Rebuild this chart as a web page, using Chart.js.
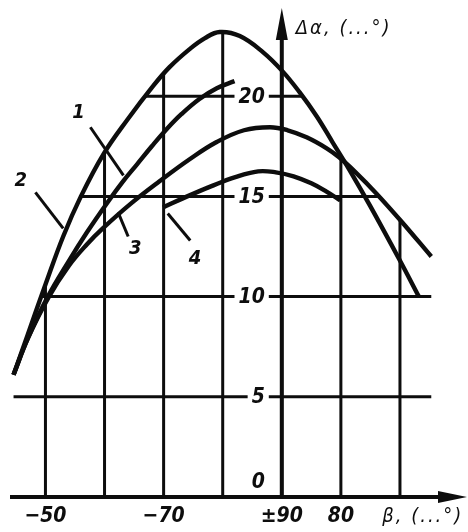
<!DOCTYPE html>
<html>
<head>
<meta charset="utf-8">
<script src="https://cdn.jsdelivr.net/npm/chart.js@4.4.1/dist/chart.umd.min.js"></script>
<style>
  body { margin: 0; background: #fff; }
</style>
</head>
<body>
<canvas id="chart" width="468" height="532"></canvas>
<script>
// beta is unrolled along the axis: -50 ... -90 | +90, 80, 70  ->  50 ... 90, 100, 110
const betaTicks = [50, 60, 70, 80, 90, 100, 110];
const betaTickLabels = ['\u221250', '', '\u221270', '', '\u00b190', '80', ''];
const alphaTicks = [0, 5, 10, 15, 20];

const curve1Beta = [44.6, 47, 50.4, 54, 57, 60.5, 63, 65.5, 68, 70.5, 73, 76, 79, 82];
const curve1Alpha = [6.1, 7.9, 10, 11.8, 13.2, 14.7, 15.7, 16.6, 17.5, 18.35, 19.1, 19.85, 20.4, 20.75];

const curve2Beta = [44.6, 47, 50, 53, 56, 59.8, 63.8, 68.2, 71, 74.4, 77, 79.5, 82.9, 86.8, 90.1, 93, 95.9, 98.6, 101.4, 105, 109.9, 113.2];
const curve2Alpha = [6.1, 8.1, 10.6, 13.0, 15.0, 17.1, 18.8, 20.5, 21.45, 22.35, 22.9, 23.2, 23.0, 22.2, 21.25, 20.2, 19.0, 17.7, 16.35, 14.5, 11.85, 10.0];

const curve3Beta = [44.6, 47, 50.5, 54, 57, 59.7, 64.3, 69.3, 74.4, 78.9, 83.6, 88, 91, 94.2, 97.6, 99.7, 102.5, 106, 110.4, 115.3];
const curve3Alpha = [6.1, 7.9, 9.95, 11.55, 12.6, 13.4, 14.6, 15.75, 16.85, 17.7, 18.3, 18.45, 18.3, 17.95, 17.4, 16.95, 16.2, 15.15, 13.7, 12];

const curve4Beta = [69.9, 74, 78, 82, 86, 89, 92, 95, 97.5, 99.9];
const curve4Alpha = [14.45, 15.0, 15.5, 15.95, 16.25, 16.2, 16.0, 15.65, 15.25, 14.8];

// curve numbers with their leader lines, in chart values
const curveTags = [
  { name: '1', at: [55.6, 19.15], from: [57.6, 18.45], to: [63.2, 16.05] },
  { name: '2', at: [45.8, 15.8], from: [48.3, 15.2], to: [53, 13.4] },
  { name: '3', at: [65.2, 12.4], from: [64, 13], to: [62.3, 14.2] },
  { name: '4', at: [75.3, 11.9], from: [74.5, 12.8], to: [70.7, 14.15] },
];

const ink = '#0d0d0d';
const fam = "'DejaVu Sans Condensed', 'DejaVu Sans', sans-serif";

function toPoints(xs, ys) {
  return xs.map((v, i) => ({ x: v, y: ys[i] }));
}

function curve(xs, ys) {
  return {
    data: toPoints(xs, ys),
    borderColor: ink,
    borderWidth: 4.4,
    pointRadius: 0,
    tension: 0.4,
    fill: false,
    clip: false,
  };
}

// grid drawn only underneath the curves, like on the paper chart
const paperGrid = {
  id: 'paperGrid',
  beforeDraw(chart) {
    const { ctx, chartArea } = chart;
    const xs = chart.scales.x;
    const ys = chart.scales.y;
    const y0 = ys.getPixelForValue(0);

    ctx.save();
    ctx.fillStyle = '#fff';
    ctx.fillRect(0, 0, chart.width, chart.height);

    ctx.beginPath();
    chart.data.datasets.forEach((ds, i) => {
      const meta = chart.getDatasetMeta(i);
      const pts = meta.data;
      if (!pts.length) return;
      meta.dataset.updateControlPoints(chartArea, 'x');
      meta.dataset.path(ctx);
      ctx.lineTo(pts[pts.length - 1].x, y0);
      ctx.lineTo(pts[0].x, y0);
      ctx.closePath();
    });
    ctx.clip();

    ctx.strokeStyle = ink;
    ctx.lineWidth = 3;
    betaTicks.forEach((v) => {
      const px = xs.getPixelForValue(v);
      ctx.beginPath();
      ctx.moveTo(px, y0);
      ctx.lineTo(px, chartArea.top);
      ctx.stroke();
    });
    alphaTicks.forEach((v) => {
      const py = ys.getPixelForValue(v);
      ctx.beginPath();
      ctx.moveTo(chartArea.left, py);
      ctx.lineTo(chartArea.right, py);
      ctx.stroke();
    });
    ctx.restore();
  },
  beforeDatasetsDraw(chart) {
    const { ctx, chartArea } = chart;
    const xs = chart.scales.x;
    const ys = chart.scales.y;
    const ax = xs.getPixelForValue(90);
    const y0 = ys.getPixelForValue(0);

    ctx.save();
    // alpha labels sit on the grid, left of the axis
    ctx.font = 'italic bold 21px ' + fam;
    ctx.textAlign = 'right';
    ctx.textBaseline = 'middle';
    alphaTicks.forEach((v) => {
      const text = String(v);
      const right = ax - 17;
      const py = v === 0 ? ys.getPixelForValue(v) - 15 : ys.getPixelForValue(v);
      const w = ctx.measureText(text).width;
      ctx.fillStyle = '#fff';
      ctx.fillRect(right - w - 4, py - 9, w + 8, 18);
      ctx.fillStyle = ink;
      ctx.fillText(text, right, py + 1);
    });

    // axes with arrows
    ctx.strokeStyle = ink;
    ctx.fillStyle = ink;
    ctx.lineWidth = 4;
    ctx.beginPath();
    ctx.moveTo(ax, y0);
    ctx.lineTo(ax, chartArea.top + 20);
    ctx.moveTo(chartArea.left, y0);
    ctx.lineTo(chart.width - 20, y0);
    ctx.stroke();

    ctx.beginPath();
    ctx.moveTo(ax, chartArea.top + 2);
    ctx.lineTo(ax - 6, chartArea.top + 34);
    ctx.lineTo(ax + 6, chartArea.top + 34);
    ctx.closePath();
    ctx.fill();

    ctx.beginPath();
    ctx.moveTo(chart.width - 1, y0);
    ctx.lineTo(chart.width - 30, y0 - 6);
    ctx.lineTo(chart.width - 30, y0 + 6);
    ctx.closePath();
    ctx.fill();
    ctx.restore();
  },
  afterDatasetsDraw(chart) {
    const { ctx, chartArea } = chart;
    const xs = chart.scales.x;
    const ys = chart.scales.y;
    const ax = xs.getPixelForValue(90);
    const y0 = ys.getPixelForValue(0);

    ctx.save();
    ctx.strokeStyle = ink;
    ctx.fillStyle = ink;
    ctx.lineWidth = 3;
    ctx.font = 'italic bold 20px ' + fam;
    ctx.textAlign = 'center';
    ctx.textBaseline = 'middle';
    curveTags.forEach((t) => {
      ctx.beginPath();
      ctx.moveTo(xs.getPixelForValue(t.from[0]), ys.getPixelForValue(t.from[1]));
      ctx.lineTo(xs.getPixelForValue(t.to[0]), ys.getPixelForValue(t.to[1]));
      ctx.stroke();
      ctx.fillText(t.name, xs.getPixelForValue(t.at[0]), ys.getPixelForValue(t.at[1]));
    });

    // axis titles
    ctx.font = 'italic 20px ' + fam;
    ctx.letterSpacing = '2px';
    ctx.textAlign = 'left';
    ctx.textBaseline = 'alphabetic';
    ctx.fillText('\u0394\u03b1, (...\u00b0)', ax + 14, chartArea.top + 28);
    ctx.fillText('\u03b2, (...\u00b0)', xs.getPixelForValue(107), y0 + 25);
    ctx.restore();
  },
};

new Chart(document.getElementById('chart'), {
  type: 'line',
  data: {
    datasets: [
      curve(curve1Beta, curve1Alpha),
      curve(curve2Beta, curve2Alpha),
      curve(curve3Beta, curve3Alpha),
      curve(curve4Beta, curve4Alpha),
    ],
  },
  options: {
    responsive: false,
    animation: false,
    devicePixelRatio: 1,
    layout: { padding: { left: 10, right: 6, top: 6, bottom: 0 } },
    plugins: { legend: { display: false }, tooltip: { enabled: false } },
    scales: {
      x: {
        type: 'linear',
        min: 44,
        max: 120.5,
        afterBuildTicks: (s) => { s.ticks = betaTicks.map((v) => ({ value: v })); },
        afterFit: (s) => { s.height = 35; },
        grid: { display: false, drawTicks: false },
        border: { display: false },
        ticks: {
          autoSkip: false,
          maxRotation: 0,
          padding: 7,
          color: ink,
          font: { family: fam, size: 21, style: 'italic', weight: 'bold' },
          callback: (v, i) => betaTickLabels[i],
        },
      },
      y: {
        type: 'linear',
        min: 0,
        max: 24.5,
        display: false,
      },
    },
  },
  plugins: [paperGrid],
});
</script>
</body>
</html>
